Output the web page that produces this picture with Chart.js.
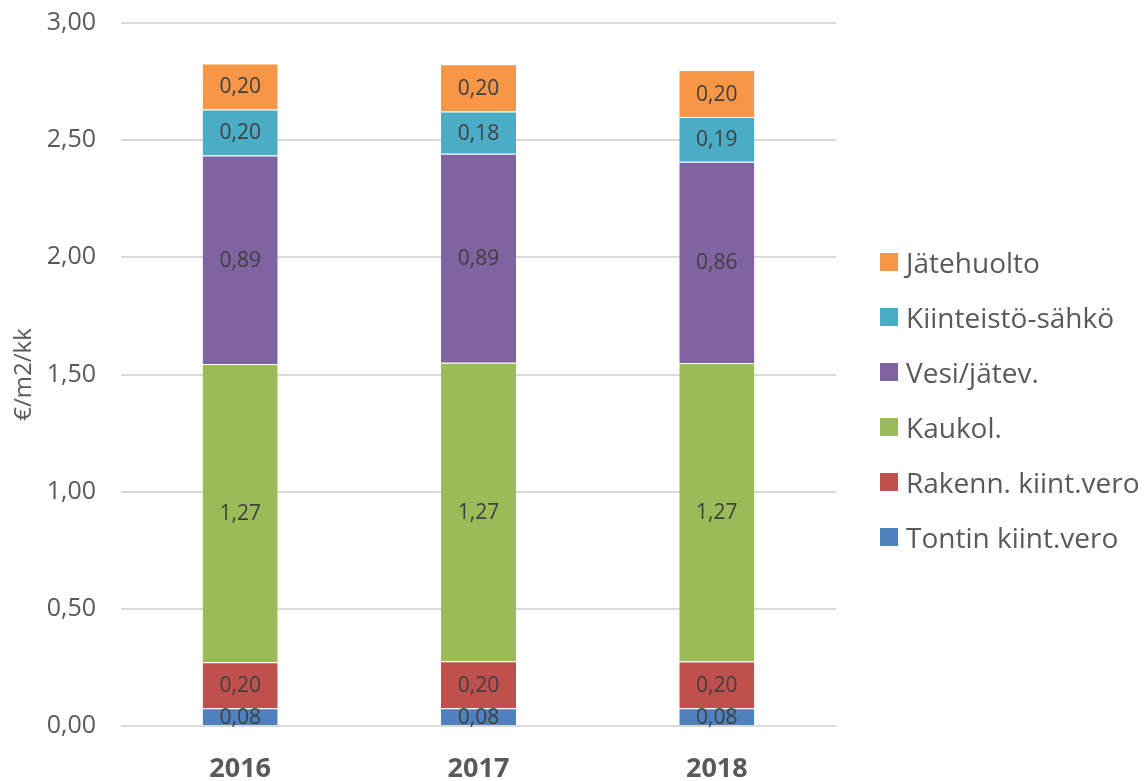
<!DOCTYPE html>
<html>
<head>
<meta charset="utf-8">
<script src="https://cdn.jsdelivr.net/npm/chart.js@4/dist/chart.umd.min.js"></script>
<style>
  html, body { margin: 0; padding: 0; background: #fff; }
  #wrap { position: relative; width: 1147px; height: 781px; }
  #legend { position: absolute; left: 880px; top: 253px; font-family: "Open Sans", sans-serif; font-size: 28px; color: #595959; }
  #legend .item { position: absolute; left: 0; height: 18px; display: flex; align-items: center; white-space: nowrap; }
  #legend .box { width: 18px; height: 18px; margin-right: 8px; flex: none; }
</style>
</head>
<body>
<div id="wrap">
  <canvas id="chart" width="1147" height="781"></canvas>
  <div id="legend"></div>
</div>
<script>
const years = ['2016', '2017', '2018'];
const tontin = [0.076, 0.076, 0.076];
const rakenn = [0.196, 0.2, 0.199];
const kaukol = [1.273, 1.274, 1.274];
const vesi = [0.89, 0.892, 0.859];
const sahko = [0.196, 0.18, 0.191];
const jate = [0.196, 0.202, 0.2];
const yTicks = [0, 0.5, 1, 1.5, 2, 2.5, 3];

const FONT = '"Open Sans", sans-serif';
const fmt = (v) => v.toFixed(2).replace('.', ',');

// draws the value in the middle of each segment
const barLabels = {
  id: 'barLabels',
  afterDatasetsDraw(chart) {
    const ctx = chart.ctx;
    ctx.save();
    ctx.font = '21px ' + FONT;
    ctx.fillStyle = '#404040';
    ctx.textAlign = 'center';
    ctx.textBaseline = 'middle';
    chart.data.datasets.forEach((ds, i) => {
      chart.getDatasetMeta(i).data.forEach((bar, j) => {
        const mid = (bar.y + bar.base) / 2;
        ctx.fillText(fmt(ds.data[j]), bar.x, mid + 1);
      });
    });
    ctx.restore();
  }
};

function ds(label, data, color) {
  return {
    label,
    data,
    backgroundColor: color,
    borderColor: 'rgba(255,255,255,0.8)',
    borderWidth: { top: 1, bottom: 0, left: 0, right: 0 },
    borderSkipped: false
  };
}

const chart = new Chart(document.getElementById('chart'), {
  type: 'bar',
  data: {
    labels: years,
    datasets: [
      ds('Tontin kiint.vero', tontin, '#4F81BD'),
      ds('Rakenn. kiint.vero', rakenn, '#C0504D'),
      ds('Kaukol.', kaukol, '#9BBB59'),
      ds('Vesi/jätev.', vesi, '#8064A2'),
      ds('Kiinteistö-sähkö', sahko, '#4BACC6'),
      ds('Jätehuolto', jate, '#F79646')
    ]
  },
  options: {
    responsive: false,
    animation: false,
    layout: { padding: { top: 0, left: 0, right: 311, bottom: 0 } },
    datasets: { bar: { categoryPercentage: 1, barPercentage: 0.315 } },
    plugins: {
      legend: { display: false },
      tooltip: { enabled: false }
    },
    scales: {
      x: {
        stacked: true,
        grid: { display: false, drawTicks: false },
        border: { display: false },
        afterFit: (axis) => { axis.height = 55; },
        ticks: { color: '#595959', padding: 27, font: { family: FONT, size: 27, weight: 'bold' } }
      },
      y: {
        stacked: true,
        min: 0,
        max: 3,
        afterBuildTicks: (axis) => { axis.ticks = yTicks.map((v) => ({ value: v })); },
        afterFit: (axis) => { axis.width = 121; },
        grid: { color: '#d9d9d9', lineWidth: 2, drawTicks: true, tickLength: 17, tickColor: 'rgba(0,0,0,0)' },
        border: { display: false },
        title: {
          display: true,
          text: '€/m2/kk',
          color: '#595959',
          padding: { top: 10, bottom: 10 },
          font: { family: FONT, size: 24 }
        },
        ticks: {
          color: '#595959',
          padding: 8,
          font: { family: FONT, size: 25 },
          callback: (v) => fmt(v)
        }
      }
    }
  },
  plugins: [barLabels]
});

// legend, top item is the last dataset
const legend = document.getElementById('legend');
chart.data.datasets.slice().reverse().forEach((d, i) => {
  const item = document.createElement('div');
  item.className = 'item';
  item.style.top = (i * 55) + 'px';
  item.innerHTML = `<span class="box" style="background:${d.backgroundColor}"></span><span>${d.label}</span>`;
  legend.appendChild(item);
});
</script>
</body>
</html>
